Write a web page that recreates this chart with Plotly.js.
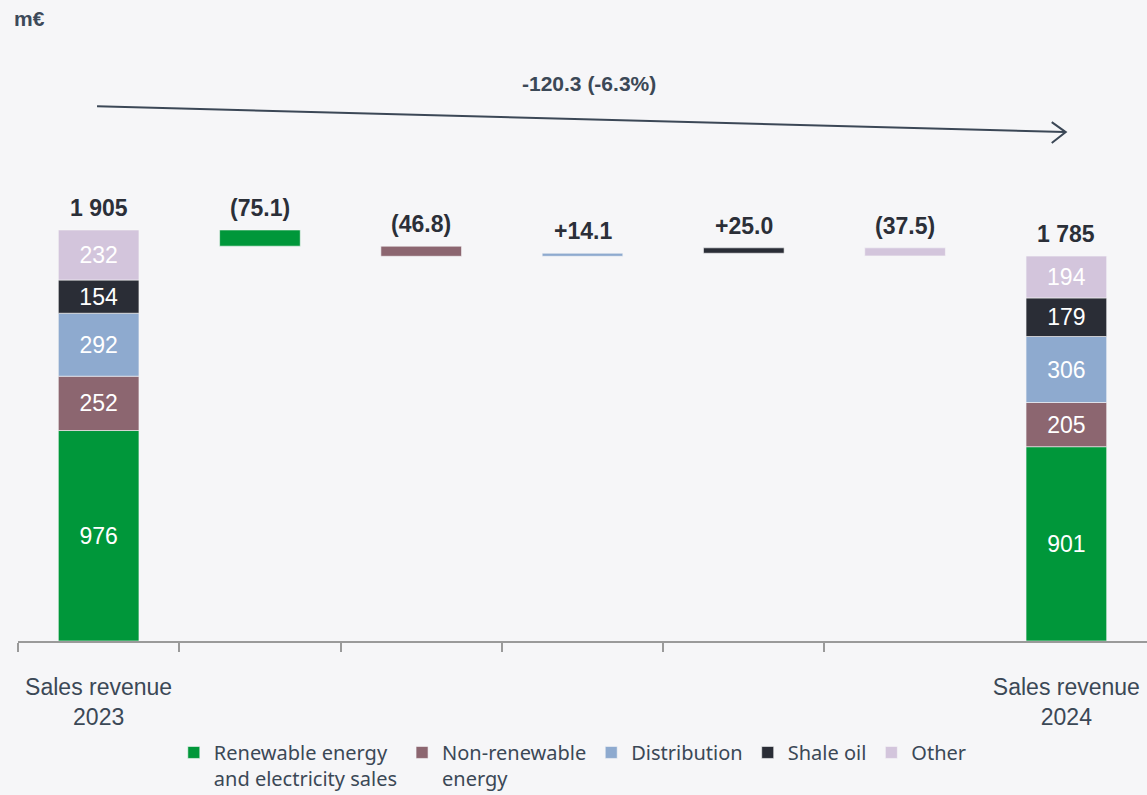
<!DOCTYPE html>
<html>
<head>
<meta charset="utf-8">
<script src="https://cdn.plot.ly/plotly-3.0.1.min.js"></script>
<style>html,body{margin:0;padding:0;background:#f6f6f8;}#chart{width:1147px;height:795px;}</style>
</head>
<body>
<div id="chart"></div>
<script>
// ---- data ----
const segmentNames = ["Renewable energy<br>and electricity sales", "Non-renewable<br>energy", "Distribution", "Shale oil", "Other"];
const segmentColors = ["#00973a", "#8c6670", "#8eaacf", "#2a2d36", "#d3c5dc"];
const sales2023 = [976, 252, 292, 154, 232];
const sales2024 = [901, 205, 306, 179, 194];
const deltas = [-75.1, -46.8, 14.1, 25.0, -37.5];
const deltaLabels = ["(75.1)", "(46.8)", "+14.1", "+25.0", "(37.5)"];
const total2023Label = "1 905";
const total2024Label = "1 785";
const xTickLabels = ["Sales revenue<br>2023", "Sales revenue<br>2024"];
const changeLabel = "-120.3 (-6.3%)";
const unitLabel = "m€";

// ---- build ----
const FONT = "Arial, 'Liberation Sans', sans-serif";
const nCat = deltas.length + 2;
const lastX = nCat - 1;
const cum = a => a.map((v, i) => a.slice(0, i).reduce((s, w) => s + w, 0));
const base23 = cum(sales2023);
const base24 = cum(sales2024);
const top23 = sales2023.reduce((s, v) => s + v, 0);
const top24 = sales2024.reduce((s, v) => s + v, 0);

let running = top23;
const floatBase = [], floatTop = [];
deltas.forEach(d => {
  const b = d < 0 ? running + d : running;
  floatBase.push(b);
  floatTop.push(b + Math.abs(d));
  running += d;
});

const traces = segmentNames.map((name, i) => ({
  type: "bar",
  name: name,
  x: [0, i + 1, lastX],
  y: [sales2023[i], Math.abs(deltas[i]), sales2024[i]],
  base: [base23[i], floatBase[i], base24[i]],
  text: [String(sales2023[i]), "", String(sales2024[i])],
  textposition: "inside",
  insidetextanchor: "middle",
  textangle: 0,
  constraintext: "none",
  insidetextfont: { family: FONT, size: 23, color: "#ffffff" },
  marker: { color: segmentColors[i], line: { width: 0.6, color: "#f6f6f8" } },
  width: 0.5,
  hoverinfo: "skip"
}));

const labelFont = { family: FONT, size: 23, color: "#2b2f38" };
const annotations = [];
annotations.push({ x: 0, y: top23, text: "<b>" + total2023Label + "</b>", showarrow: false, yanchor: "bottom", yshift: 7, font: labelFont });
annotations.push({ x: lastX, y: top24, text: "<b>" + total2024Label + "</b>", showarrow: false, yanchor: "bottom", yshift: 7, font: labelFont });
deltas.forEach((d, i) => {
  annotations.push({ x: i + 1, y: floatTop[i], text: "<b>" + deltaLabels[i] + "</b>", showarrow: false, yanchor: "bottom", yshift: 7, font: labelFont });
});

const arrowOffset = 575;
const arrowY0 = top23 + arrowOffset - 1;
const arrowY1 = top24 + arrowOffset;
annotations.push({ x: (lastX) / 2 + 0.04, y: arrowY0 + 103, text: "<b>" + changeLabel + "</b>", showarrow: false, yanchor: "middle",
  font: { family: FONT, size: 21, color: "#3b4856" } });

const arrowColor = "#3b4756";
const shapes = [
  { type: "line", xref: "x", yref: "y", x0: -0.01, y0: arrowY0, x1: lastX - 0.01, y1: arrowY1, line: { color: arrowColor, width: 2 } },
  { type: "path", xref: "x", yref: "y", xsizemode: "pixel", ysizemode: "pixel", xanchor: lastX - 0.01, yanchor: arrowY1,
    path: "M -13 10 L 1 0 L -13 -11", line: { color: arrowColor, width: 2 } }
];

const minorTicks = [];
for (let k = 0; k < lastX; k++) minorTicks.push(k - 0.5);

const layout = {
  width: 1147, height: 795,
  paper_bgcolor: "#f6f6f8", plot_bgcolor: "#f6f6f8",
  margin: { l: 18, r: 0, t: 40, b: 154, autoexpand: false },
  barmode: "overlay",
  showlegend: true,
  title: { text: "<b>" + unitLabel + "</b>", x: 14 / 1147, xref: "container", xanchor: "left", y: 1 - 19 / 795, yref: "container", yanchor: "middle",
    font: { family: FONT, size: 21, color: "#3d4a5a" } },
  xaxis: {
    range: [-0.5, lastX + 0.5],
    tickvals: [0, lastX], ticktext: xTickLabels,
    ticks: "", showgrid: false, zeroline: false,
    showline: true, linecolor: "#9a9a9a", linewidth: 2,
    tickfont: { family: FONT, size: 23, color: "#3b4856" },
    ticklabelstandoff: 24,
    minor: { tickvals: minorTicks, ticks: "outside", ticklen: 9, tickcolor: "#9a9a9a", tickwidth: 2, showgrid: false },
    fixedrange: true
  },
  yaxis: { range: [0, 2787], visible: false, showgrid: false, zeroline: false, fixedrange: true },
  legend: {
    orientation: "h", x: 0.138, xanchor: "left", y: -0.153, yanchor: "top",
    bgcolor: "rgba(0,0,0,0)", valign: "top",
    font: { family: "'Noto Sans', sans-serif", size: 20, color: "#3b4856" },
    traceorder: "normal", itemwidth: 30
  },
  annotations: annotations,
  shapes: shapes
};

Plotly.newPlot("chart", traces, layout, { displayModeBar: false, staticPlot: true });
</script>
</body>
</html>
